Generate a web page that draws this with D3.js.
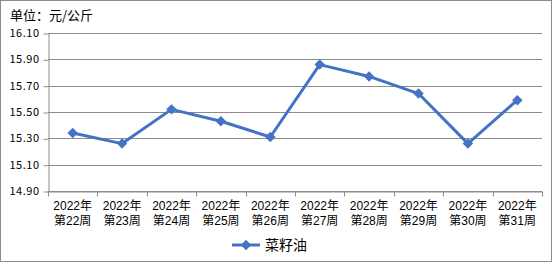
<!DOCTYPE html>
<html><head><meta charset="utf-8">
<script src="https://cdn.jsdelivr.net/npm/d3@7"></script>
<style>body{margin:0;background:#fff}svg{display:block}</style>
</head><body>
<svg id="c" width="552" height="262"></svg>
<script>
const years = ["2022年","2022年","2022年","2022年","2022年","2022年","2022年","2022年","2022年","2022年"];
const weeks = ["第22周","第23周","第24周","第25周","第26周","第27周","第28周","第29周","第30周","第31周"];
const values = [15.34, 15.26, 15.52, 15.43, 15.31, 15.86, 15.77, 15.64, 15.26, 15.59];
const yTicks = [14.90, 15.10, 15.30, 15.50, 15.70, 15.90, 16.10];
const seriesName = "菜籽油";
const unitLabel = "单位：元/公斤";

const svg = d3.select("#c");
const font = "'Noto Sans CJK SC', 'DejaVu Sans', sans-serif";
const labFont = "'Liberation Sans', 'Noto Sans CJK SC', sans-serif";
const L = 48, R = 542, T = 33, B = 191;
const color = "#4472C4", grid = "#8c8c8c";

svg.append("rect").attr("x",0.5).attr("y",0.5).attr("width",551).attr("height",261)
  .attr("fill","#fff").attr("stroke","#8c8c8c");

const x = d3.scaleBand().domain(weeks).range([L,R]);
const y = d3.scaleLinear().domain([14.90,16.10]).range([B,T]);

// gridlines
svg.append("g").selectAll("line").data(yTicks).join("line")
  .attr("x1",L).attr("x2",R).attr("y1",d=>Math.round(y(d))+0.5).attr("y2",d=>Math.round(y(d))+0.5)
  .attr("stroke",grid).attr("stroke-width",1);

// y axis
const ya = svg.append("g").attr("transform",`translate(${L+0.5},0)`)
  .call(d3.axisLeft(y).tickValues(yTicks).tickFormat(d3.format(".2f")).tickSize(5).tickSizeOuter(0));
ya.select(".domain").attr("stroke",grid);
ya.selectAll(".tick line").attr("stroke",grid).attr("transform","translate(0,0.5)");
ya.selectAll("text").attr("font-family",font).attr("font-size",11).attr("fill","#000").attr("dx",-1).attr("letter-spacing","0.5px");

// x axis
const xa = svg.append("g").attr("transform",`translate(0,${Math.round(B)+0.5})`)
  .call(d3.axisBottom(x).tickValues([]).tickSizeOuter(0));
xa.select(".domain").attr("stroke",grid);
const edges = weeks.map((w)=>x(w)).concat([R]);
xa.selectAll("line.tk").data(edges).join("line").attr("class","tk")
  .attr("x1",d=>Math.round(d)+0.5).attr("x2",d=>Math.round(d)+0.5).attr("y1",0).attr("y2",5).attr("stroke",grid);
const xl = svg.append("g").attr("font-family",labFont).attr("font-size",12).attr("fill","#000").attr("text-anchor","middle");
xl.selectAll("text.yr").data(weeks).join("text").attr("class","yr")
  .attr("x",d=>x(d)+x.bandwidth()/2).attr("y",210).text((d,i)=>years[i]);
xl.selectAll("text.wk").data(weeks).join("text").attr("class","wk")
  .attr("x",d=>x(d)+x.bandwidth()/2).attr("y",225).text(d=>d);

// line
const line = d3.line().x((d,i)=>x(weeks[i])+x.bandwidth()/2).y(d=>y(d));
svg.append("path").datum(values).attr("d",line).attr("fill","none").attr("stroke",color).attr("stroke-width",3).attr("stroke-linejoin","round");
const diamond = d3.symbol().type(d3.symbolDiamond2).size(70);
svg.append("g").selectAll("path").data(values).join("path")
  .attr("d",diamond).attr("transform",(d,i)=>`translate(${x(weeks[i])+x.bandwidth()/2},${y(d)})`)
  .attr("fill",color);

// unit label
svg.append("text").attr("x",10).attr("y",20).attr("font-family",font).attr("font-size",13).attr("fill","#000").text(unitLabel);

// legend
svg.append("line").attr("x1",232).attr("x2",260).attr("y1",245).attr("y2",245).attr("stroke",color).attr("stroke-width",3);
svg.append("path").attr("d",diamond).attr("transform","translate(246,245)").attr("fill",color);
svg.append("text").attr("x",265).attr("y",250).attr("font-family",font).attr("font-size",14).attr("fill","#000").text(seriesName);
</script>
</body></html>
